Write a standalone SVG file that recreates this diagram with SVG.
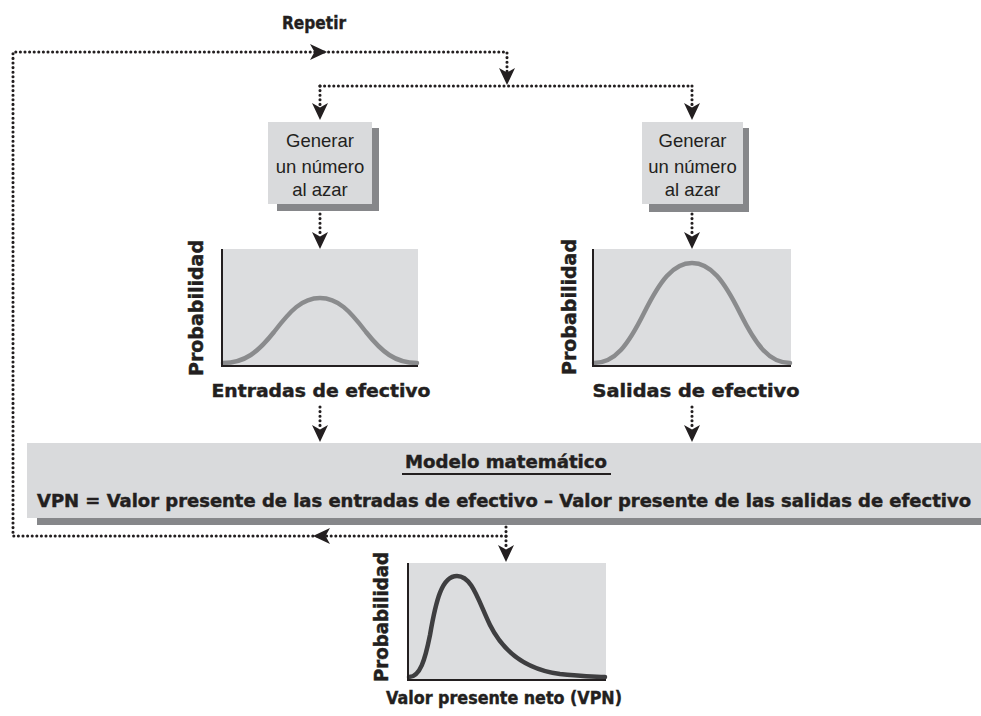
<svg xmlns="http://www.w3.org/2000/svg" xmlns:xlink="http://www.w3.org/1999/xlink" width="981" height="716" viewBox="0 0 981 716">
<defs>
<style>
.dot{fill:none;stroke:#231f20;stroke-width:3.1;stroke-linecap:round;stroke-dasharray:0 4.6}
.box{fill:#d9dadc}
.shadow{fill:#86878a}
.chart{fill:#dcdddf}
.axis{fill:none;stroke:#231f20;stroke-width:2}
.bell{fill:none;stroke:#8a8b8d;stroke-width:4.5;stroke-linecap:round}
.npv{fill:none;stroke:#3e3e40;stroke-width:4.5;stroke-linecap:round}
.b{font-family:"DejaVu Sans",sans-serif;font-weight:bold;fill:#231f20;stroke:#231f20;stroke-width:0.45}
.n{font-family:"Liberation Sans",Arial,sans-serif;font-size:18.5px;fill:#231f20;text-anchor:middle}
</style>
<path id="ah" d="M0,0 L-17,-8 L-12.5,0 L-17,8 Z" fill="#231f20"/>
</defs>

<g id="connectors">
<path class="dot" d="M506,536 L13,536 L13,52 L507,52 L507,74"/>
<path class="dot" d="M320,86 L692,86"/>
<path class="dot" d="M320,86 L320,108"/>
<path class="dot" d="M692,86 L692,108"/>
<path class="dot" d="M320,214 L320,236"/>
<path class="dot" d="M692,214 L692,236"/>
<path class="dot" d="M320,407 L320,428"/>
<path class="dot" d="M692,407 L692,428"/>
<path class="dot" d="M506,527 L506,548"/>
<use xlink:href="#ah" transform="translate(327,52)"/>
<use xlink:href="#ah" transform="translate(507,85) rotate(90)"/>
<use xlink:href="#ah" transform="translate(320,120) rotate(90)"/>
<use xlink:href="#ah" transform="translate(692,120) rotate(90)"/>
<use xlink:href="#ah" transform="translate(320,249) rotate(90)"/>
<use xlink:href="#ah" transform="translate(692,249) rotate(90)"/>
<use xlink:href="#ah" transform="translate(320,442) rotate(90)"/>
<use xlink:href="#ah" transform="translate(692,442) rotate(90)"/>
<use xlink:href="#ah" transform="translate(506,562) rotate(90)"/>
<use xlink:href="#ah" transform="translate(313,536) rotate(180)"/>
</g>

<g id="repetir">
<text class="b" x="314" y="29" font-size="18" text-anchor="middle" textLength="64" lengthAdjust="spacingAndGlyphs">Repetir</text>
</g>

<g id="gen1">
<rect class="shadow" x="277" y="128" width="102" height="83"/>
<rect class="box" x="268" y="122" width="104" height="82"/>
<text class="n" x="320" y="147">Generar</text>
<text class="n" x="320" y="173">un número</text>
<text class="n" x="320" y="196">al azar</text>
</g>

<g id="gen2">
<rect class="shadow" x="649" y="128" width="100" height="84"/>
<rect class="box" x="642" y="122" width="101" height="82"/>
<text class="n" x="692.5" y="147">Generar</text>
<text class="n" x="692.5" y="173">un número</text>
<text class="n" x="692.5" y="196">al azar</text>
</g>

<g id="chart-entradas">
<rect class="chart" x="222" y="249" width="196" height="117"/>
<path class="bell" d="M223,363 C245,363 258,352 274,332 C290,311 302,298 320,298 C338,298 350,311 366,332 C382,352 395,363 417,363"/>
<path class="axis" d="M222,249 L222,366 L418,366"/>
<text class="b" font-size="20" transform="translate(203,308) rotate(-90)" text-anchor="middle" textLength="136" lengthAdjust="spacingAndGlyphs">Probabilidad</text>
<text class="b" x="321" y="397" font-size="18" text-anchor="middle" textLength="219" lengthAdjust="spacingAndGlyphs">Entradas de efectivo</text>
</g>

<g id="chart-salidas">
<rect class="chart" x="593" y="249" width="198" height="117"/>
<path class="bell" d="M594,363 C615,363 628,345 644,313 C660,281 673,263 692,263 C711,263 724,281 740,313 C756,345 769,363 790,363"/>
<path class="axis" d="M593,249 L593,366 L791,366"/>
<text class="b" font-size="20" transform="translate(576,307) rotate(-90)" text-anchor="middle" textLength="136" lengthAdjust="spacingAndGlyphs">Probabilidad</text>
<text class="b" x="696" y="397" font-size="18" text-anchor="middle" textLength="207" lengthAdjust="spacingAndGlyphs">Salidas de efectivo</text>
</g>

<g id="modelo">
<rect class="shadow" x="37" y="518" width="944" height="7"/>
<rect class="box" x="27" y="443" width="954" height="75"/>
<text class="b" x="506" y="468" font-size="17.5" text-anchor="middle" textLength="202" lengthAdjust="spacingAndGlyphs">Modelo matemático</text>
<line x1="402" y1="474" x2="611" y2="474" stroke="#231f20" stroke-width="2"/>
<text class="b" x="37" y="507" font-size="17" textLength="934" lengthAdjust="spacingAndGlyphs">VPN = Valor presente de las entradas de efectivo – Valor presente de las salidas de efectivo</text>
</g>

<g id="chart-vpn">
<rect class="chart" x="408" y="563" width="198" height="117"/>
<path class="npv" d="M409,677 C420,677 425,660 430,635 C436,600 442,576 457,576 C472,576 478,600 490,625 C505,655 530,670 560,674 C580,676 595,677 605,677"/>
<path class="axis" d="M408,563 L408,680 L606,680"/>
<text class="b" font-size="20" transform="translate(388,617) rotate(-90)" text-anchor="middle" textLength="130" lengthAdjust="spacingAndGlyphs">Probabilidad</text>
<text class="b" x="504" y="704" font-size="18" text-anchor="middle" textLength="236" lengthAdjust="spacingAndGlyphs">Valor presente neto (VPN)</text>
</g>
</svg>
